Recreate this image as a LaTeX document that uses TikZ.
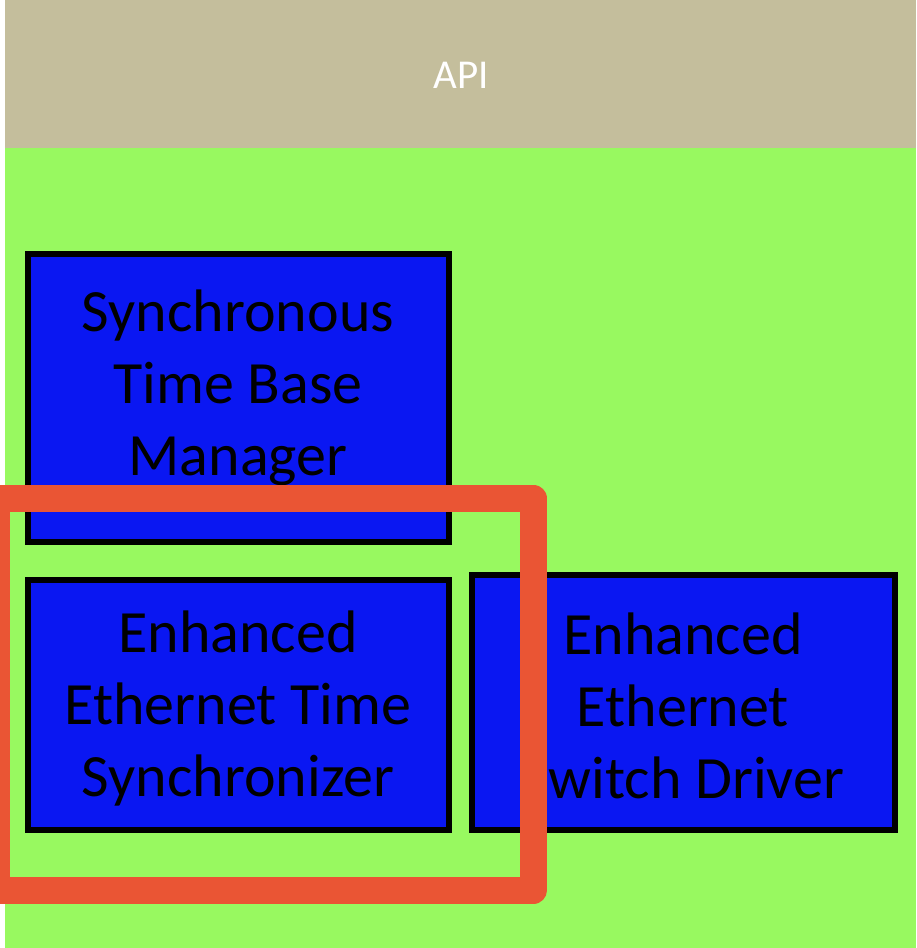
\documentclass[tikz,border=0pt]{standalone}
\usepackage{fontspec}
\setmainfont{Carlito}
\definecolor{apibg}{HTML}{C4BE9C}
\definecolor{greenbg}{HTML}{98F960}
\definecolor{boxblue}{HTML}{0A17F2}
\definecolor{hlred}{HTML}{EA5534}
\begin{document}
\begin{tikzpicture}[x=1pt,y=-1pt,
  modbox/.style={draw=black,line width=6.5pt,fill=boxblue,inner sep=0pt},
  modtext/.style={align=center,text=black,font=\fontsize{60}{72}\selectfont,inner sep=0pt},
  hlbox/.style={draw=hlred,line width=27pt,line join=round}]
\useasboundingbox (0,0) rectangle (916,948);
\fill[white] (0,0) rectangle (916,948);
\fill[apibg] (5,0) rectangle (916,148);
\fill[greenbg] (5,148) rectangle (916,948);
\node[text=white,font=\fontsize{41}{49}\selectfont,inner sep=0pt] (api) at (461,75) {API};
\draw[modbox] (28,254) rectangle (449,542);
\draw[modbox] (28,580) rectangle (449,830);
\draw[modbox] (472,575) rectangle (895,830);
\node[modtext] (stbm) at (238,388) {Synchronous\\Time Base\\Manager};
\node[modtext] (eets) at (238,708) {Enhanced\\Ethernet Time\\Synchronizer};
\node[modtext] (eesd) at (683,706) {Enhanced\\Ethernet\\Switch Driver};
\draw[hlbox] (-3.5,498.5) rectangle (533.5,890);
\end{tikzpicture}
\end{document}
